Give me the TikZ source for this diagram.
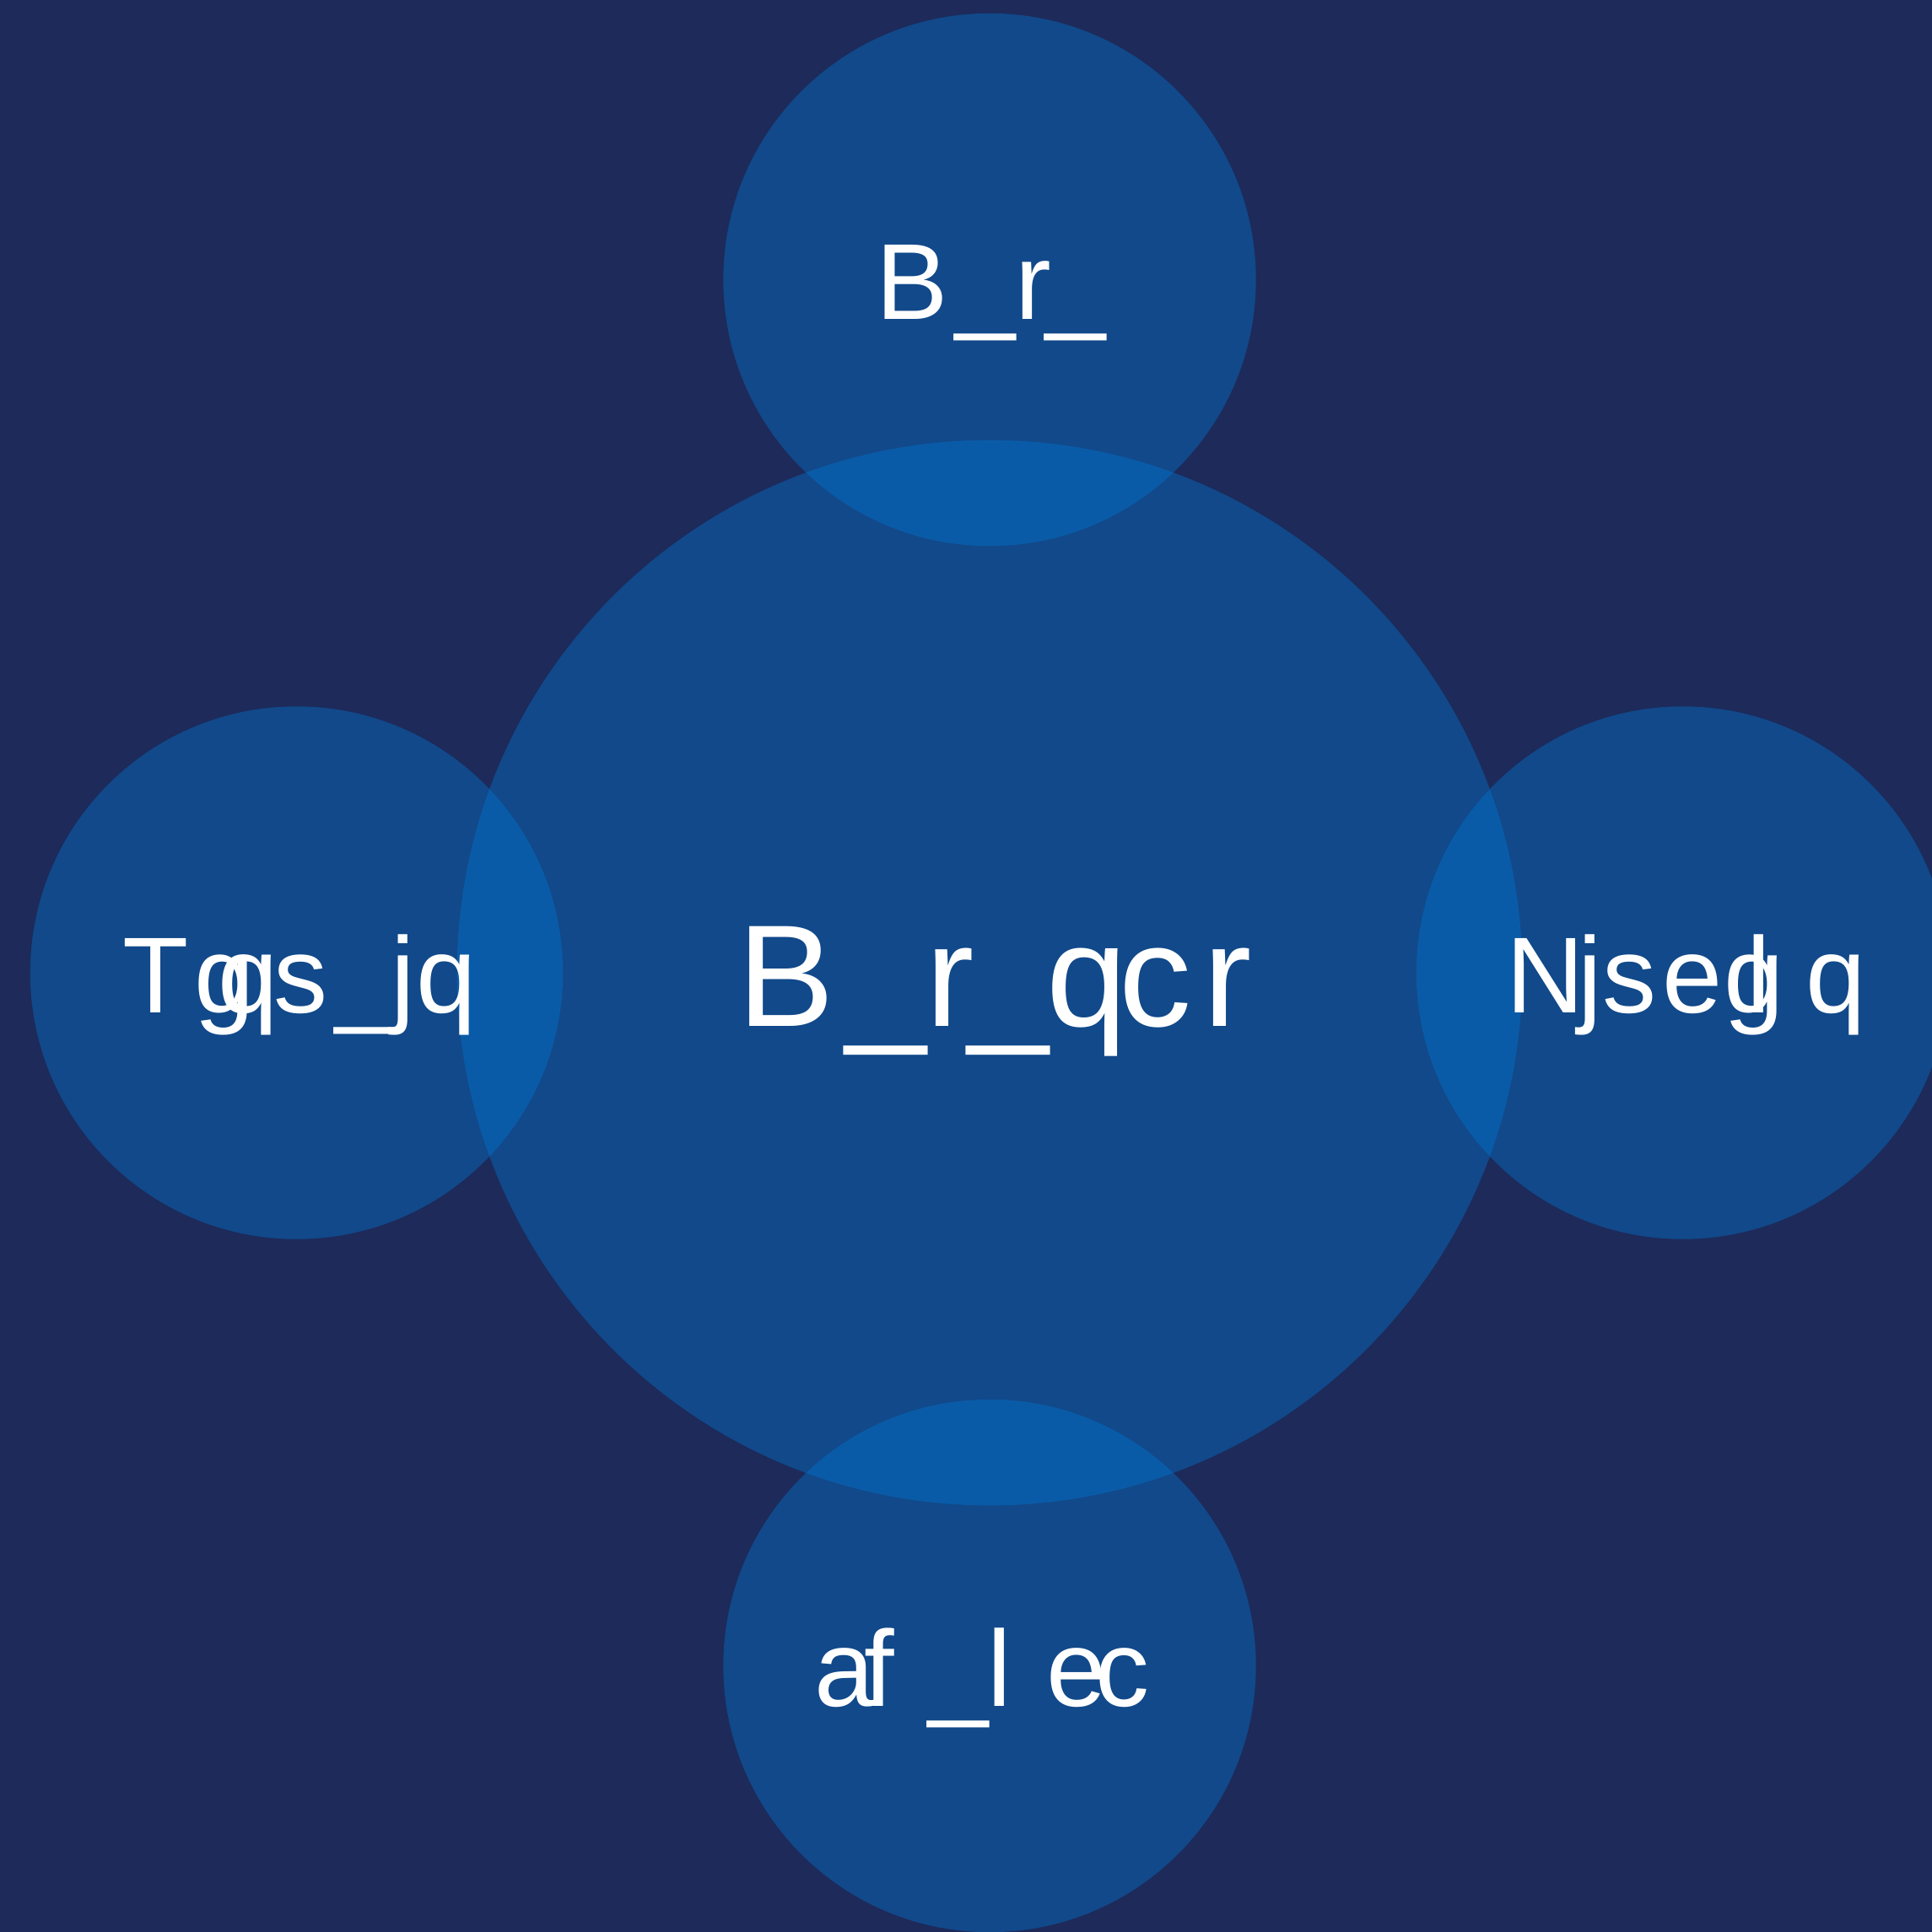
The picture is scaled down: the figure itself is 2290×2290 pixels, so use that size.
\documentclass[tikz,border=0pt]{standalone}
\usepackage{fontspec}
\setmainfont{Liberation Sans}
\newdimen\pxu \pxu=0.01cm
\newcommand\gp[2]{\makebox[0pt][l]{\hspace*{#1\pxu}#2}}
\definecolor{bgnavy}{HTML}{1D2A5A}
\definecolor{msblue}{HTML}{0078D4}
\begin{document}
\begin{tikzpicture}[x=0.01cm,y=-0.01cm,
  bubble/.style={circle, fill=msblue, fill opacity=0.4, draw=none, inner sep=0pt, minimum size=#1},
  lbl/.style={text=white, inner sep=0pt, anchor=base west, font=\fontsize{36.4pt}{40pt}\selectfont},
  biglbl/.style={lbl, font=\fontsize{48.9pt}{54pt}\selectfont}]
\fill[bgnavy] (0,0) rectangle (2290,2290);
\useasboundingbox (0,0) rectangle (2290,2290);
\clip (0,0) rectangle (2290,2290);
% bubbles
\node[bubble=12.62cm] (hub) at (1173,1153) {};
\node[bubble=6.31cm] (top) at (1173,331.5) {};
\node[bubble=6.31cm] (left) at (351.5,1153) {};
\node[bubble=6.31cm] (right) at (1994.5,1153) {};
\node[bubble=6.31cm] (bottom) at (1173,1974.5) {};
% labels
\node[biglbl] (hublbl) at (874,1216) {\gp{0}{B}\gp{128}{\_}\gp{223}{r}\gp{273}{\_}\gp{366}{q}\gp{452}{c}\gp{552}{r}\hspace*{640\pxu}};
\node[lbl] (toplbl) at (1038,378) {\gp{0}{B}\gp{94}{\_}\gp{165}{r}\gp{201}{\_}\hspace*{272\pxu}};
\node[lbl] (leftlbl) at (145,1200) {\gp{0}{T}\gp{85}{g}\gp{113}{q}\gp{179}{s}\gp{252}{\_}\gp{318}{j}\gp{348}{q}\hspace*{420\pxu}};
\node[lbl] (rightlbl) at (1785,1200) {\gp{0}{N}\gp{85}{j}\gp{114}{s}\gp{185}{e}\gp{258}{g}\gp{285}{l}\gp{355}{q}\hspace*{426\pxu}};
\node[lbl] (bottomlbl) at (965,2022) {\gp{0}{a}\gp{59}{f}\gp{135}{\_}\gp{205}{l}\gp{275}{e}\gp{333}{c}\hspace*{397\pxu}};
\end{tikzpicture}
\end{document}
